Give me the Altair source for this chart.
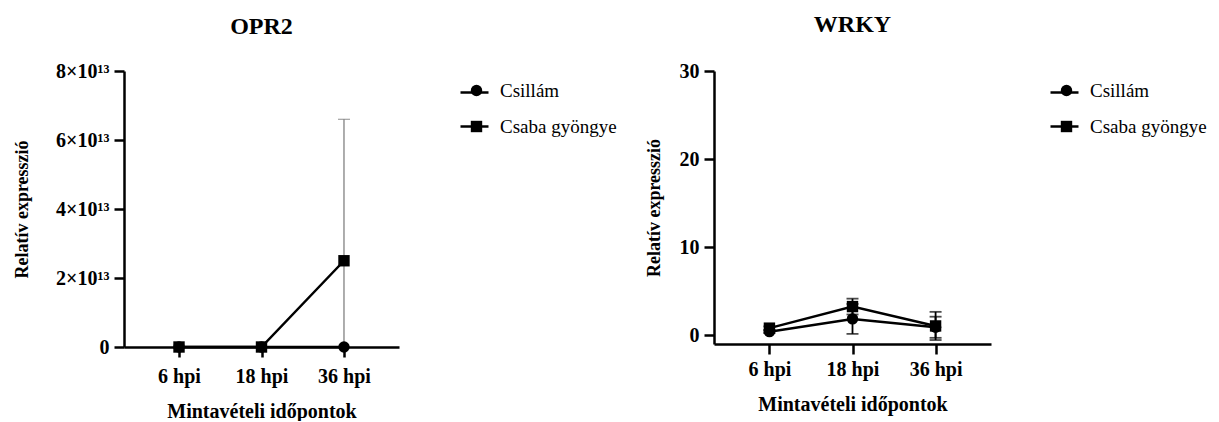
import altair as alt
import pandas as pd

times = ["6 hpi", "18 hpi", "36 hpi"]
series = ["Csillám", "Csaba gyöngye"]
shapes = ["circle", "square"]

# OPR2 (mean, SD)
opr2_csillam_mean = [0.0, 0.0, 0.0]
opr2_csillam_sd = [0.0, 0.0, 0.0]
opr2_csaba_mean = [0.0, 0.0, 2.5e13]
opr2_csaba_sd = [0.0, 0.0, 4.1e13]

# WRKY (mean, SD)
wrky_csillam_mean = [0.4, 1.85, 0.9]
wrky_csillam_sd = [0.15, 1.7, 1.2]
wrky_csaba_mean = [0.8, 3.25, 1.05]
wrky_csaba_sd = [0.2, 0.9, 1.6]

opr2_ticks = [0, 2e13, 4e13, 6e13, 8e13]
opr2_tick_labels = ["0", "2×10¹³", "4×10¹³", "6×10¹³", "8×10¹³"]
wrky_ticks = [0, 10, 20, 30]
wrky_tick_labels = ["0", "10", "20", "30"]

FONT = "Liberation Serif"
LINE_PREFIX = "line: "


def build_df(m1, s1, m2, s2):
    rows = []
    for name, means, sds in [(series[0], m1, s1), (series[1], m2, s2)]:
        for t, m, s in zip(times, means, sds):
            rows.append({"time": t, "series": name, "mean": m,
                         "sd": s, "low": m - s, "high": m + s})
    return pd.DataFrame(rows)


def label_expr(values, labels):
    parts = " : ".join(f"datum.value == {v} ? '{l}'" for v, l in zip(values, labels))
    return parts + " : ''"


def panel(df, title, ydomain, yticks, ylabels, height, width, err_color, err_width,
          ytitle_pad, title_offset, xlabel_pad):
    x = alt.X("time:N", sort=times,
              scale=alt.Scale(type="point", domain=times, padding=0.667),
              axis=alt.Axis(title="Mintavételi időpontok", labelAngle=0,
                            labelPadding=xlabel_pad, titlePadding=15, titleFontSize=20))
    yscale = alt.Scale(domain=ydomain, nice=False, zero=False)
    yaxis = alt.Axis(title="Relatív expresszió", values=yticks,
                     labelExpr=label_expr(yticks, ylabels),
                     titlePadding=ytitle_pad, labelPadding=5, titleFontSize=18)
    base = alt.Chart(df)
    errdf = base.transform_filter("datum.sd > 0")
    rule = errdf.mark_rule(color=err_color, strokeWidth=err_width, clip=True).encode(
        x=x, y=alt.Y("low:Q", scale=yscale, axis=yaxis), y2="high:Q")
    cap_lo = errdf.mark_tick(color=err_color, thickness=err_width, size=12, clip=True).encode(
        x=x, y=alt.Y("low:Q", scale=yscale))
    cap_hi = errdf.mark_tick(color=err_color, thickness=err_width, size=12, clip=True).encode(
        x=x, y=alt.Y("high:Q", scale=yscale))
    line = base.transform_calculate(
        line_series=f"'{LINE_PREFIX}' + datum.series"
    ).mark_line(strokeWidth=2.5).encode(
        x=x, y=alt.Y("mean:Q", scale=yscale),
        detail="series:N",
        color=alt.Color("line_series:N",
                        scale=alt.Scale(domain=[LINE_PREFIX + s for s in series],
                                        range=["black", "black"]),
                        legend=alt.Legend(title=None, orient="none", legendX=335, legendY=6,
                                          symbolType="stroke", symbolSize=784,
                                          symbolStrokeWidth=2.5, labelExpr="''",
                                          labelFontSize=20, rowPadding=8)))
    pts = base.mark_point(filled=True, opacity=1, color="black", size=130).encode(
        x=x, y=alt.Y("mean:Q", scale=yscale),
        shape=alt.Shape("series:N", sort=series,
                        scale=alt.Scale(domain=series, range=shapes),
                        legend=alt.Legend(title=None, orient="none", legendX=343, legendY=10,
                                          symbolSize=130, symbolFillColor="black",
                                          symbolStrokeColor="black", symbolStrokeWidth=0,
                                          labelFont=FONT, labelFontSize=19,
                                          labelFontWeight="normal", labelColor="black",
                                          labelOffset=14, rowPadding=16)))
    return alt.layer(rule, cap_lo, cap_hi, line, pts).properties(
        width=width, height=height,
        title=alt.TitleParams(title, font=FONT, fontSize=24, fontWeight="bold",
                              anchor="middle", frame="group", offset=title_offset,
                              color="black"))


opr2_df = build_df(opr2_csillam_mean, opr2_csillam_sd, opr2_csaba_mean, opr2_csaba_sd)
wrky_df = build_df(wrky_csillam_mean, wrky_csillam_sd, wrky_csaba_mean, wrky_csaba_sd)

left = panel(opr2_df, "OPR2", [0, 8e13], opr2_ticks, opr2_tick_labels, 276, 275,
             "#777777", 1.2, 24, 22, 9)
right = panel(wrky_df, "WRKY", [-1, 30], wrky_ticks, wrky_tick_labels, 273, 277,
              "black", 1.8, 16, 24, 5)

chart = alt.hconcat(left, right, spacing=28).resolve_scale(
    color="independent", shape="independent", y="independent", x="independent"
).resolve_legend(color="independent", shape="independent").configure(
    background="white",
    padding={"left": 5, "top": 5, "right": 0, "bottom": 0}
).configure_view(
    stroke=None
).configure_axis(
    grid=False, labelFont=FONT, labelFontSize=20, labelFontWeight="bold",
    labelColor="black", titleFont=FONT, titleFontWeight="bold",
    titleColor="black", domainColor="black", domainWidth=2.5, tickColor="black",
    tickWidth=2.5, tickSize=10
)

chart.save("out.html", embed_options={"renderer": "svg", "actions": False})
